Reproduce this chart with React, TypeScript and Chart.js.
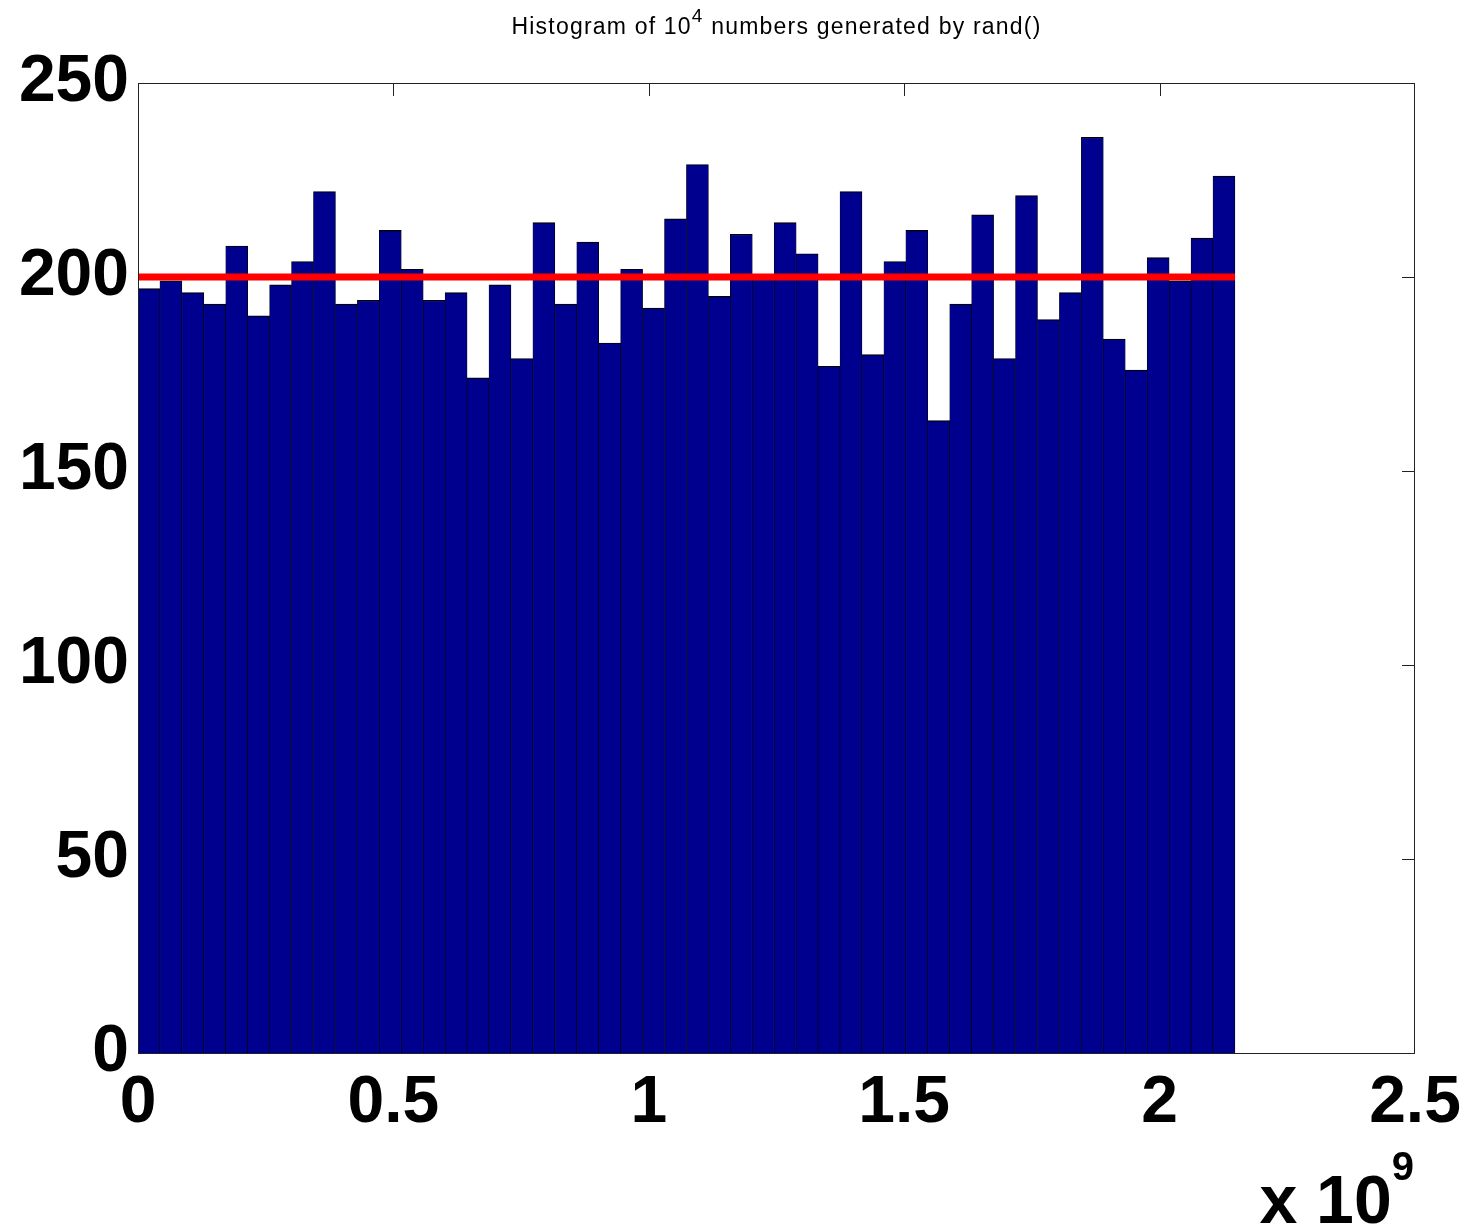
import React, { useEffect, useRef } from "react";
import { Chart, registerables } from "chart.js";

Chart.register(...registerables);

// ---- data ----
const binCounts = [
  197, 199, 196, 193, 208, 190, 198, 204, 222, 193,
  194, 212, 202, 194, 196, 174, 198, 179, 214, 193,
  209, 183, 202, 192, 215, 229, 195, 211, 200, 214,
  206, 177, 222, 180, 204, 212, 163, 193, 216, 179,
  221, 189, 196, 236, 184, 176, 205, 199, 210, 226,
];
const randMax = 2147483648; // upper edge of the last bin (2^31)
const expectedCount = 200; // 10^4 / 50 bins
const xTickValues = [0, 0.5e9, 1e9, 1.5e9, 2e9, 2.5e9];
const xTickLabels = ["0", "0.5", "1", "1.5", "2", "2.5"];
const yTickValues = [0, 50, 100, 150, 200, 250];
const yTickLabels = ["0", "50", "100", "150", "200", "250"];
const titleParts = ["Histogram of 10", "4", " numbers generated by rand()"];
const xExponentParts = ["x 10", "9"];

const FONT = "'Liberation Sans', Arial, Helvetica, sans-serif";

const framePlugin = {
  id: "matlabFrame",
  beforeDatasetsDraw(chart: any) {
    const { ctx, chartArea: a, scales } = chart;
    const tl = 13;
    ctx.save();
    ctx.strokeStyle = "#222";
    ctx.lineWidth = 1;
    ctx.beginPath();
    xTickValues.forEach((v) => {
      const px = Math.round(scales.x.getPixelForValue(v)) + 0.5;
      if (px <= a.left + 2 || px >= a.right - 2) return;
      ctx.moveTo(px, a.top);
      ctx.lineTo(px, a.top + tl);
      ctx.moveTo(px, a.bottom);
      ctx.lineTo(px, a.bottom - tl);
    });
    yTickValues.forEach((v) => {
      const py = Math.round(scales.y.getPixelForValue(v)) + 0.5;
      if (py <= a.top + 2 || py >= a.bottom - 2) return;
      ctx.moveTo(a.left, py);
      ctx.lineTo(a.left + tl, py);
      ctx.moveTo(a.right, py);
      ctx.lineTo(a.right - tl, py);
    });
    ctx.stroke();
    ctx.restore();
  },
  afterDatasetsDraw(chart: any) {
    const { ctx, chartArea: a } = chart;
    ctx.save();
    ctx.strokeStyle = "#222";
    ctx.lineWidth = 1;
    ctx.strokeRect(
      Math.round(a.left) + 0.5,
      Math.round(a.top) + 0.5,
      Math.round(a.right - a.left) - 1,
      Math.round(a.bottom - a.top)
    );
    ctx.restore();
  },
  afterDraw(chart: any) {
    const { ctx, chartArea: a, height } = chart;
    ctx.save();
    ctx.fillStyle = "#000";
    ctx.textBaseline = "alphabetic";
    ctx.textAlign = "left";
    // title with superscript
    const mainFont = `23px ${FONT}`;
    const supFont = `19px ${FONT}`;
    (ctx as any).letterSpacing = "1.2px";
    ctx.font = mainFont;
    const w0 = ctx.measureText(titleParts[0]).width;
    const w2 = ctx.measureText(titleParts[2]).width;
    ctx.font = supFont;
    const w1 = ctx.measureText(titleParts[1]).width;
    const total = w0 + w1 + w2;
    let x = (a.left + a.right) / 2 - total / 2;
    const base = 34;
    ctx.font = mainFont;
    ctx.fillText(titleParts[0], x, base);
    x += w0;
    ctx.font = supFont;
    ctx.fillText(titleParts[1], x, base - 12);
    x += w1;
    ctx.font = mainFont;
    ctx.fillText(titleParts[2], x, base);
    (ctx as any).letterSpacing = "0px";

    // x 10^9 exponent label
    const bigFont = `bold 68px ${FONT}`;
    const expFont = `bold 40px ${FONT}`;
    ctx.font = expFont;
    const we = ctx.measureText(xExponentParts[1]).width;
    ctx.font = bigFont;
    const wb = ctx.measureText(xExponentParts[0]).width;
    const right = a.right - 1;
    const bx = right - we - wb;
    ctx.fillText(xExponentParts[0], bx, height - 3);
    ctx.font = expFont;
    ctx.fillText(xExponentParts[1], right - we, height - 46);
    ctx.restore();
  },
};

export default function App() {
  const canvasRef = useRef<HTMLCanvasElement | null>(null);

  useEffect(() => {
    document.body.style.margin = "0";
    const canvas = canvasRef.current;
    if (!canvas) return;
    const binWidth = randMax / binCounts.length;
    const barData = binCounts.map((c, i) => ({ x: (i + 0.5) * binWidth, y: c }));
    const lineData = [
      { x: 0, y: expectedCount },
      { x: randMax, y: expectedCount },
    ];

    const chart = new Chart(canvas, {
      type: "bar",
      data: {
        datasets: [
          {
            type: "line",
            data: lineData,
            borderColor: "#ff0000",
            borderWidth: 7,
            pointRadius: 0,
            borderCapStyle: "butt",
            order: 0,
          } as any,
          {
            type: "bar",
            data: barData,
            backgroundColor: "#00008f",
            borderColor: "#000000",
            borderWidth: { top: 1.2, right: 0.7, bottom: 0, left: 0.6 },
            borderSkipped: false,
            barPercentage: 1,
            categoryPercentage: 1,
            order: 1,
          } as any,
        ],
      },
      options: {
        animation: false,
        responsive: true,
        maintainAspectRatio: false,
        layout: { padding: { top: 83, right: 62, left: 0, bottom: 0 } },
        plugins: {
          legend: { display: false },
          tooltip: { enabled: false },
          title: { display: false },
        },
        scales: {
          x: {
            type: "linear",
            offset: false,
            min: 0,
            max: 2.5e9,
            afterBuildTicks: (scale: any) => {
              scale.ticks = xTickValues.map((v) => ({ value: v }));
            },
            afterFit: (scale: any) => {
              scale.height = 173;
            },
            ticks: {
              autoSkip: false,
              maxRotation: 0,
              padding: 11,
              color: "#000",
              font: { family: FONT, size: 66, weight: "bold" },
              callback: (v: any) => {
                const idx = xTickValues.indexOf(Number(v));
                return idx >= 0 ? xTickLabels[idx] : "";
              },
            },
            grid: { display: false, drawTicks: false, offset: false },
            border: { display: false },
          },
          y: {
            type: "linear",
            min: 0,
            max: 250,
            afterBuildTicks: (scale: any) => {
              scale.ticks = yTickValues.map((v) => ({ value: v }));
            },
            afterFit: (scale: any) => {
              scale.width = 138;
            },
            ticks: {
              autoSkip: false,
              padding: 9,
              color: "#000",
              font: { family: FONT, size: 66, weight: "bold" },
              callback: (v: any) => {
                const idx = yTickValues.indexOf(Number(v));
                return idx >= 0 ? yTickLabels[idx] : "";
              },
            },
            grid: { display: false, drawTicks: false },
            border: { display: false },
          },
        },
      } as any,
      plugins: [framePlugin],
    });
    return () => chart.destroy();
  }, []);

  return (
    <div style={{ position: "absolute", left: 0, top: 0, width: 1477, height: 1226, background: "#fff" }}>
      <canvas ref={canvasRef} />
    </div>
  );
}
